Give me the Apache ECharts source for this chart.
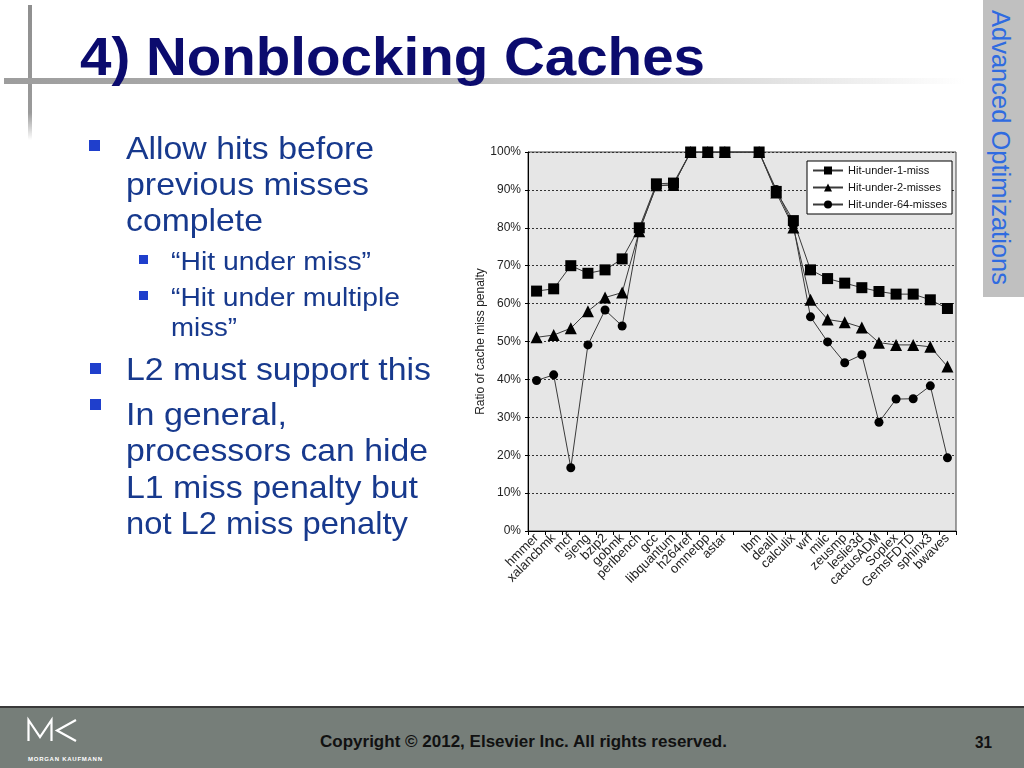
<!DOCTYPE html>
<html>
<head>
<meta charset="utf-8">
<script src="https://cdn.jsdelivr.net/npm/echarts@6/dist/echarts.min.js"></script>
<style>
  html, body { margin:0; padding:0; background:#fff; }
  #page { position:relative; width:1024px; height:768px; overflow:hidden; background:#fff; font-family:"Liberation Sans", Arial, sans-serif; }
  #chart { position:absolute; left:0; top:0; width:1024px; height:768px; }
  .ln { position:absolute; white-space:nowrap; line-height:1; transform-origin:0 50%; }
  .bul { position:absolute; background:#1f3fcc; }
</style>
</head>
<body>
<div id="page">
  <div id="chart"></div>
  <!-- decorative lines -->
  <div style="position:absolute;left:28px;top:5px;width:4px;height:135px;background:linear-gradient(to bottom,#8f8f8f 0%,#9a9a9a 80%,rgba(200,200,200,0) 100%);"></div>
  <div style="position:absolute;left:4px;top:78px;width:960px;height:6px;background:linear-gradient(to right,#9d9d9d 0%,#b5b5b5 40%,#e2e2e2 80%,rgba(255,255,255,0) 100%);"></div>
  <!-- right tab -->
  <div style="position:absolute;left:983px;top:0;width:41px;height:297px;background:#c0c0c0;"></div>
  <div id="tab" style="position:absolute;left:986px;top:10px;width:30px;height:280px;writing-mode:vertical-rl;font-size:25.5px;color:#2f6be0;line-height:30px;white-space:nowrap;">Advanced Optimizations</div>
  <!-- footer -->
  <div style="position:absolute;left:0;top:706px;width:1024px;height:2px;background:#3a3a3a;"></div>
  <div style="position:absolute;left:0;top:708px;width:1024px;height:60px;background:#767e79;"></div>
  <svg style="position:absolute;left:0;top:708px;" width="120" height="60">
    <polyline points="28.5,33 28.5,12 40,29 51.5,12 51.5,33" fill="none" stroke="#fff" stroke-width="2.2"/>
    <polyline points="76,12 57,22.5 76,33" fill="none" stroke="#fff" stroke-width="2.2"/>
    <text x="28" y="53" fill="#fff" font-size="6" font-weight="bold" font-family="Liberation Sans, Arial" textLength="74">MORGAN KAUFMANN</text>
  </svg>
  <div id="slide"></div>
</div>
<script>
// ---- chart data ----
const categories = ['hmmer','xalancbmk','mcf','sjeng','bzip2','gobmk','perlbench','gcc','libquantum','h264ref','omnetpp','astar','','lbm','dealII','calculix','wrf','milc','zeusmp','leslie3d','cactusADM','Soplex','GemsFDTD','sphinx3','bwaves'];
const hitUnder1 = [63.3, 63.9, 70.0, 68.0, 68.9, 71.8, 80.0, 91.6, 91.8, 100, 100, 100, null, 100, 89.6, 81.9, 68.9, 66.6, 65.4, 64.2, 63.2, 62.5, 62.5, 61.0, 58.7];
const hitUnder2 = [51.1, 51.7, 53.5, 58.0, 61.6, 62.9, 79.1, 91.2, 91.3, 100, 100, 100, null, 100, 89.3, 80.1, 61.0, 55.8, 55.1, 53.7, 49.7, 49.1, 49.1, 48.6, 43.4];
const hitUnder64 = [39.7, 41.2, 16.7, 49.1, 58.3, 54.1, 79.4, 91.0, 91.4, 100, 100, 100, null, 100, 90.1, 80.6, 56.5, 49.9, 44.4, 46.5, 28.7, 34.8, 34.9, 38.3, 19.3];
const seriesNames = ['Hit-under-1-miss','Hit-under-2-misses','Hit-under-64-misses'];
const yAxisTitle = 'Ratio of cache miss penalty';

// ---- slide text ----
const slideLines = [
  {t:'4) Nonblocking Caches', x:80, r:705, b:75, f:54, bold:true, c:'#0b0b6e'},
  {t:'Allow hits before', x:126, r:374, b:159, f:32},
  {t:'previous misses', x:126, r:369, b:195, f:32},
  {t:'complete', x:126, r:263, b:231.5, f:32},
  {t:'\u201CHit under miss\u201D', x:171, r:371, b:270.5, f:26},
  {t:'\u201CHit under multiple', x:171, r:400, b:306.5, f:26},
  {t:'miss\u201D', x:171, r:237, b:336, f:26},
  {t:'L2 must support this', x:126, r:431, b:380, f:32},
  {t:'In general,', x:126, r:287, b:425, f:32},
  {t:'processors can hide', x:126, r:428, b:461.5, f:32},
  {t:'L1 miss penalty but', x:126, r:418, b:498, f:32},
  {t:'not L2 miss penalty', x:126, r:408, b:534.5, f:32},
  {t:'Copyright \u00A9 2012, Elsevier Inc. All rights reserved.', x:320, r:727, b:747, f:16.5, bold:true, c:'#111', fam:'"Liberation Sans Narrow", "Liberation Sans", Arial'},
  {t:'31', x:975, r:992, b:748, f:17, bold:true, c:'#111', fam:'"Liberation Sans Narrow", "Liberation Sans", Arial'}
];
const bullets = [
  {x:89, y:140, w:11, h:11}, {x:90, y:363, w:11, h:11}, {x:90, y:399, w:11, h:11},
  {x:139, y:255, w:9, h:9}, {x:139, y:291, w:9, h:9}
];

const slide = document.getElementById('slide');
bullets.forEach(b => {
  const d = document.createElement('div');
  d.className = 'bul';
  Object.assign(d.style, {left:b.x+'px', top:b.y+'px', width:b.w+'px', height:b.h+'px'});
  slide.appendChild(d);
});
slideLines.forEach(l => {
  const d = document.createElement('div');
  d.className = 'ln';
  d.textContent = l.t;
  d.style.fontSize = l.f + 'px';
  d.style.color = l.c || '#17398d';
  if (l.bold) d.style.fontWeight = 'bold';
  if (l.fam) d.style.fontFamily = l.fam;
  d.style.left = l.x + 'px';
  d.style.top = (l.b - 0.8465 * l.f) + 'px';
  slide.appendChild(d);
  const w = d.getBoundingClientRect().width;
  if (w > 0) d.style.transform = 'scaleX(' + ((l.r - l.x) / w).toFixed(4) + ')';
});

// ---- chart ----
const chart = echarts.init(document.getElementById('chart'), null, {renderer:'canvas'});
const font = '"Liberation Sans", Arial, sans-serif';
const mk = (name, data, symbol, size) => ({
  name, type:'line', data, symbol, symbolSize:size, connectNulls:true,
  lineStyle:{color:'#3a3a3a', width:1},
  itemStyle:{color:'#000', borderColor:'#000', borderWidth:0},
  emphasis:{disabled:true}, animation:false, z:3
});
chart.setOption({
  animation:false,
  textStyle:{fontFamily:font},
  grid:{left:528, top:152, width:428, height:379, show:true, backgroundColor:'#e6e6e6', borderColor:'#444', borderWidth:1, containLabel:false},
  legend:{
    left:807, top:161, orient:'vertical', padding:[4,5,4,5], itemGap:6, itemWidth:30, itemHeight:10,
    backgroundColor:'#fff', borderColor:'#000', borderWidth:1, borderRadius:0,
    textStyle:{fontSize:11, color:'#111', fontFamily:font}, itemTextGap:5,
    data:seriesNames
  },
  xAxis:{
    type:'category', data:categories, boundaryGap:true,
    axisLine:{lineStyle:{color:'#000', width:1}},
    axisTick:{show:true, length:4, inside:false, alignWithLabel:false, lineStyle:{color:'#000'}},
    axisLabel:{rotate:45, interval:0, fontSize:13, color:'#222', margin:5, fontFamily:font},
    splitLine:{show:false}
  },
  yAxis:{
    type:'value', min:0, max:100, interval:10,
    name:yAxisTitle, nameLocation:'middle', nameGap:41, nameRotate:90,
    nameTextStyle:{fontSize:12, color:'#222', fontFamily:font},
    axisLine:{show:true, lineStyle:{color:'#000', width:1}},
    axisTick:{show:true, length:3, lineStyle:{color:'#000'}},
    axisLabel:{formatter:'{value}%', fontSize:12, color:'#222', margin:7, fontFamily:font},
    splitLine:{show:true, lineStyle:{color:'#333', type:[2,2], width:1}}
  },
  series:[
    mk(seriesNames[0], hitUnder1, 'rect', 11),
    mk(seriesNames[1], hitUnder2, 'triangle', 12),
    mk(seriesNames[2], hitUnder64, 'circle', 9)
  ]
});
</script>
</body>
</html>
